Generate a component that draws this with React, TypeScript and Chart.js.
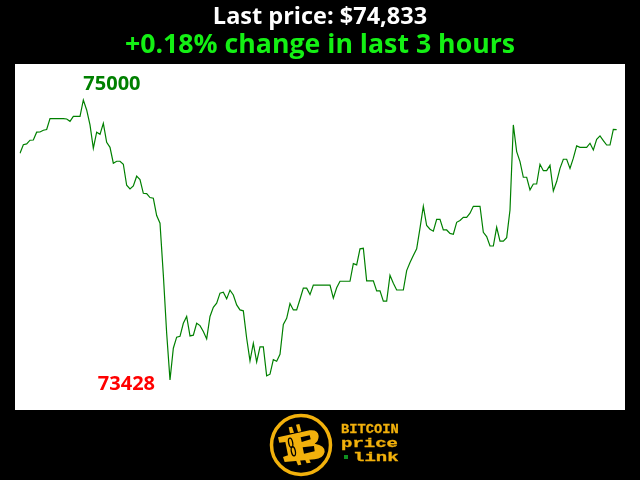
import React, { useEffect, useRef } from "react";
import { Chart, registerables } from "chart.js";

Chart.register(...registerables);

const titleText = "Last price: $74,833";
const subtitleText = "+0.18% change in last 3 hours";
const highLabel = "75000";
const lowLabel = "73428";
const prices = [
  74701, 74749, 74753, 74774, 74775, 74819, 74820, 74830, 74834, 74895,
  74895, 74895, 74895, 74895, 74893, 74880, 74908, 74908, 74908, 75000,
  74944, 74860, 74729, 74819, 74807, 74869, 74762, 74734, 74645, 74656,
  74656, 74639, 74521, 74500, 74517, 74572, 74553, 74476, 74474, 74452,
  74448, 74351, 74308, 74018, 73690, 73428, 73606, 73668, 73673, 73746,
  73784, 73675, 73679, 73746, 73733, 73700, 73658, 73784, 73836, 73859,
  73915, 73920, 73883, 73932, 73905, 73849, 73821, 73816, 73662, 73535,
  73634, 73529, 73613, 73613, 73451, 73460, 73542, 73533, 73572, 73739,
  73774, 73857, 73821, 73821, 73881, 73943, 73943, 73907, 73960, 73960,
  73960, 73960, 73960, 73960, 73887, 73945, 73982, 73982, 73982, 73982,
  74081, 74074, 74164, 74167, 73984, 73984, 73984, 73928, 73928, 73870,
  73870, 74016, 73971, 73933, 73933, 73933, 74042, 74087, 74126, 74164,
  74280, 74403, 74295, 74274, 74263, 74330, 74330, 74270, 74270, 74251,
  74246, 74313, 74323, 74341, 74341, 74364, 74403, 74403, 74403, 74257,
  74233, 74180, 74180, 74285, 74207, 74207, 74227, 74382, 74860, 74710,
  74654, 74566, 74566, 74495, 74528, 74528, 74639, 74603, 74603, 74633,
  74489, 74542, 74616, 74667, 74667, 74616, 74673, 74742, 74734, 74734,
  74734, 74757, 74719, 74779, 74798, 74772, 74747, 74747, 74835, 74833,
];
// Three hours of minutes: the axis runs one step past the last reading.
const minutes = [...prices, 0].map((_, i) => String(i));
const yMin = 73259;
const yMax = 75202;
const FONT = '"Open Sans", sans-serif';
const GOLD = "#f2b10c";

function poly(ctx: CanvasRenderingContext2D, pts: number[]) {
  ctx.beginPath();
  ctx.moveTo(pts[0], pts[1]);
  for (let i = 2; i < pts.length; i += 2) ctx.lineTo(pts[i], pts[i + 1]);
  ctx.closePath();
  ctx.fill();
}

function drawLogo(ctx: CanvasRenderingContext2D) {
  ctx.save();
  ctx.strokeStyle = GOLD;
  ctx.lineWidth = 3.5;
  ctx.beginPath();
  ctx.arc(301, 445, 29.5, 0, Math.PI * 2);
  ctx.stroke();

  // Logo glyph, drawn in a 3x local space
  ctx.translate(268, 412);
  ctx.scale(1 / 3, 1 / 3);
  ctx.fillStyle = GOLD;
  poly(ctx, [62, 46, 72, 44, 78, 62, 66, 64]);
  poly(ctx, [84, 38, 94, 36, 100, 58, 90, 60]);
  poly(ctx, [84, 145, 96, 143, 100, 158, 90, 160]);
  poly(ctx, [110, 140, 122, 138, 128, 152, 116, 154]);
  ctx.beginPath();
  ctx.moveTo(30, 76);
  ctx.lineTo(125, 55);
  ctx.quadraticCurveTo(150, 52, 152, 72);
  ctx.quadraticCurveTo(152, 88, 140, 95);
  ctx.quadraticCurveTo(172, 100, 170, 120);
  ctx.quadraticCurveTo(165, 140, 140, 142);
  ctx.lineTo(50, 150);
  ctx.lineTo(45, 135);
  ctx.lineTo(60, 130);
  ctx.lineTo(52, 90);
  ctx.lineTo(34, 92);
  ctx.closePath();
  ctx.fill();
  ctx.fillStyle = "#000";
  poly(ctx, [98, 76, 125, 70, 128, 82, 101, 90]);
  poly(ctx, [104, 106, 138, 102, 140, 118, 108, 125]);
  ctx.strokeStyle = "#000";
  ctx.lineWidth = 4;
  ctx.beginPath();
  ctx.ellipse(68, 92, 6, 14, -0.2, 0, Math.PI * 2);
  ctx.stroke();
  ctx.beginPath();
  ctx.ellipse(76, 118, 6, 14, -0.2, 0, Math.PI * 2);
  ctx.stroke();
  ctx.restore();

  ctx.save();
  ctx.fillStyle = GOLD;
  ctx.strokeStyle = GOLD;
  ctx.lineWidth = 0.3;
  ctx.textAlign = "left";
  ctx.textBaseline = "alphabetic";
  ctx.font = 'bold 12.5px "Liberation Mono"';
  const word = (text: string, x: number, y: number, sx: number) => {
    ctx.save();
    ctx.translate(x, y);
    ctx.scale(sx, 1);
    ctx.fillText(text, 0, 0);
    ctx.strokeText(text, 0, 0);
    ctx.restore();
  };
  word("BITCOIN", 341, 433, 1.1);
  word("price", 341, 447, 1.52);
  word("link", 353, 461, 1.52);
  ctx.fillStyle = "#0f8f20";
  ctx.fillRect(344, 455, 4, 4);
  ctx.restore();
}

const panelPlugin = {
  id: "panel",
  beforeDraw(chart: any) {
    const { ctx } = chart;
    ctx.save();
    ctx.fillStyle = "#000";
    ctx.fillRect(0, 0, 640, 480);
    ctx.fillStyle = "#fff";
    ctx.fillRect(15, 64, 610, 346);
    ctx.restore();
  },
  afterDraw(chart: any) {
    const { ctx, scales } = chart;
    ctx.save();
    ctx.font = `bold 20px ${FONT}`;
    ctx.textBaseline = "middle";
    ctx.textAlign = "left";
    ctx.fillStyle = "#008000";
    const hi = prices.indexOf(Math.max(...prices));
    ctx.fillText(highLabel, scales.x.getPixelForValue(hi), scales.y.getPixelForValue(75000) - 16);
    ctx.textAlign = "right";
    ctx.fillStyle = "#ff0000";
    const lo = prices.indexOf(Math.min(...prices));
    ctx.fillText(lowLabel, scales.x.getPixelForValue(lo) - 15, scales.y.getPixelForValue(73428) + 4);
    ctx.restore();
    drawLogo(ctx);
  },
};

export default function App() {
  const ref = useRef<HTMLCanvasElement>(null);
  useEffect(() => {
    document.body.style.margin = "0";
    document.body.style.background = "#000";
    const chart = new Chart(ref.current!, {
      type: "line",
      data: {
        labels: minutes,
        datasets: [
          {
            data: prices,
            borderColor: "#008000",
            borderWidth: 1.2,
            pointRadius: 0,
            tension: 0,
            fill: false,
          },
        ],
      },
      options: {
        animation: false,
        responsive: false,
        devicePixelRatio: 1,
        layout: { padding: { left: 20, right: 20, top: 0, bottom: 70 } },
        scales: {
          x: { display: false },
          y: { display: false, min: yMin, max: yMax },
        },
        plugins: {
          legend: { display: false },
          tooltip: { enabled: false },
          title: {
            display: true,
            text: titleText,
            color: "#fff",
            font: { family: FONT, size: 23.5, weight: "bold", lineHeight: "30px" },
            padding: { top: 2, bottom: 0 },
          },
          subtitle: {
            display: true,
            text: subtitleText,
            color: "#14f014",
            font: { family: FONT, size: 26.7, weight: "bold", lineHeight: "26px" },
            padding: { top: 0, bottom: 6 },
          },
        },
      },
      plugins: [panelPlugin],
    } as any);
    return () => chart.destroy();
  }, []);
  return <canvas ref={ref} width={640} height={480} style={{ display: "block", width: 640, height: 480 }} />;
}
